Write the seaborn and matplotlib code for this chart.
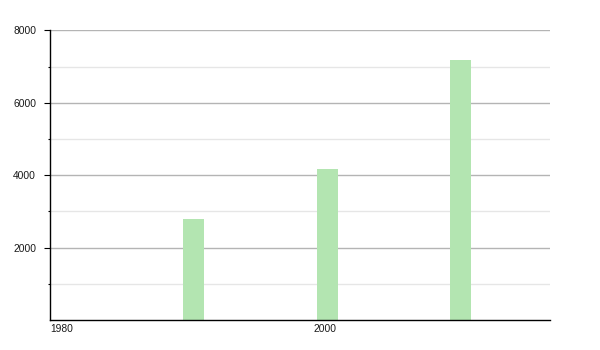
import matplotlib
matplotlib.use("Agg")
import matplotlib.pyplot as plt
import seaborn as sns
import pandas as pd
from matplotlib.ticker import FixedLocator

years = [1991, 2001, 2011]
values = [2790, 4170, 7180]
x_tick_values = [1980, 2000]
x_tick_labels = ["1980", "2000"]
y_major = [2000, 4000, 6000, 8000]
y_major_labels = ["2000", "4000", "6000", "8000"]
y_minor = [1000, 3000, 5000, 7000]

sns.set_theme(style="white")
plt.rcParams["font.family"] = ["Liberation Sans", "DejaVu Sans"]

df = pd.DataFrame({"year": years, "value": values})

fig = plt.figure(figsize=(6, 3.5), dpi=100)
ax = fig.add_axes([50 / 600, 1 - 320 / 350, 500 / 600, (320 - 30.3) / 350])

sns.barplot(data=df, x="year", y="value", native_scale=True, width=0.157,
            color="#b3e5b1", saturation=1, ax=ax, zorder=3, edgecolor="none",
            errorbar=None)

xmin, xmax = 1980.25, 2017.7
ax.set_xlim(xmin, xmax)
ax.set_ylim(0, 8000)
ax.set_xlabel("")
ax.set_ylabel("")

# gridlines
for v in y_major:
    ax.axhline(v, color="#b4b4b4", lw=1.0, zorder=1)
for v in y_minor:
    ax.axhline(v, color="#e6e6e6", lw=1.0, zorder=1)

ax.yaxis.set_major_locator(FixedLocator(y_major))
ax.set_yticklabels(y_major_labels)
ax.yaxis.set_minor_locator(FixedLocator(y_minor))
ax.tick_params(axis="y", which="major", left=True, length=4.5, width=0.8,
               color="black", pad=5.5, labelsize=7.4, labelcolor="#1a1a1a")
ax.tick_params(axis="y", which="minor", left=True, length=1.6, width=0.8,
               color="black")

# first label is kept inside the plotting area (as in the reference)
x_tick_pos = [max(t, xmin) for t in x_tick_values]
ax.xaxis.set_major_locator(FixedLocator(x_tick_pos))
ax.set_xticklabels(x_tick_labels)
for lbl in ax.get_xticklabels():
    lbl.set_horizontalalignment("left")
ax.tick_params(axis="x", which="major", bottom=False, length=0, pad=3,
               labelsize=7.4, labelcolor="#1a1a1a")

for s in ["top", "right"]:
    ax.spines[s].set_visible(False)
for s in ["left", "bottom"]:
    ax.spines[s].set_visible(True)
    ax.spines[s].set_color("black")
    ax.spines[s].set_linewidth(1.0)
    ax.spines[s].set_zorder(5)

fig.savefig("out.png", dpi=100, facecolor="white")
